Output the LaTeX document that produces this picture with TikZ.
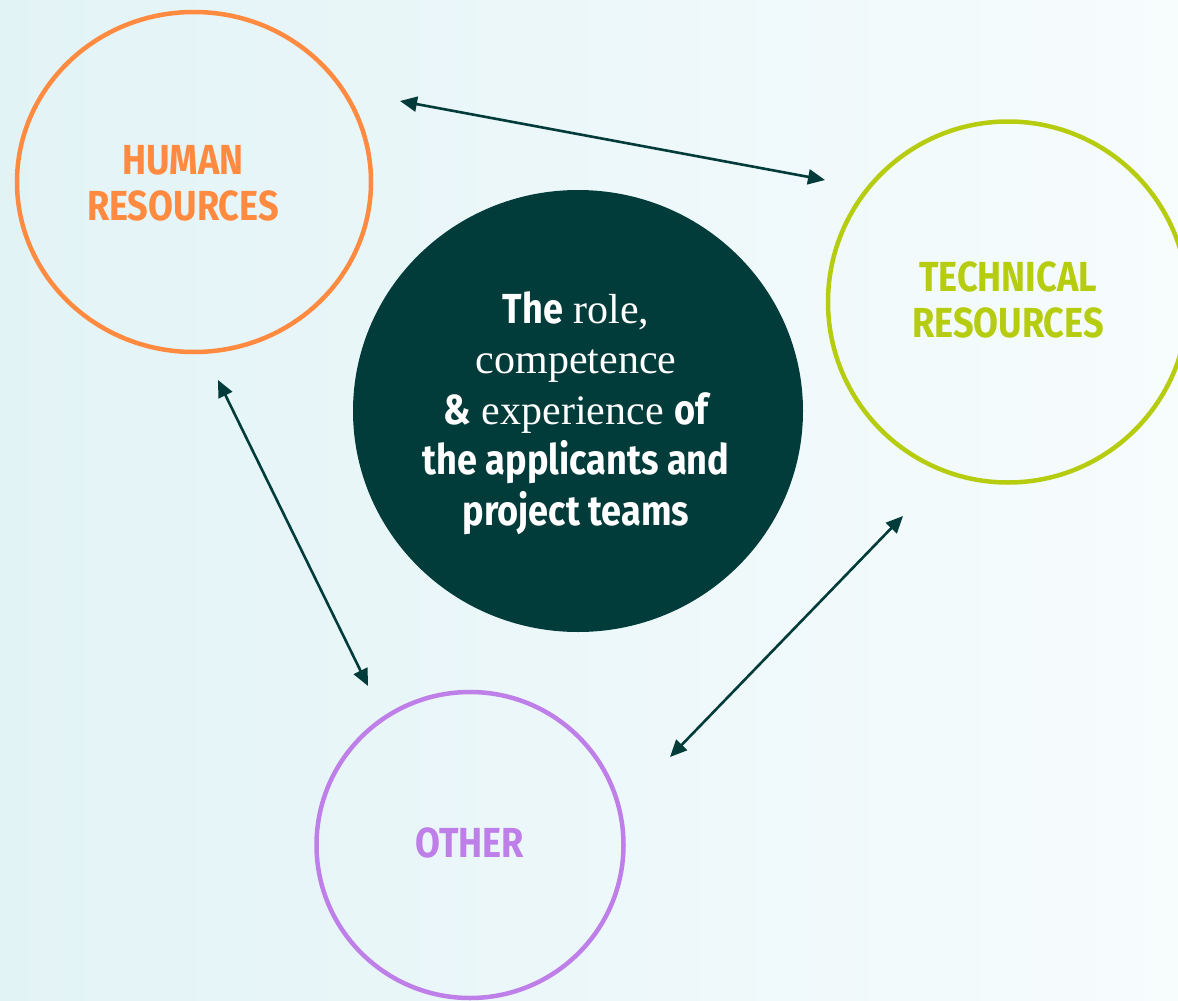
\documentclass[tikz,border=0pt]{standalone}
\usepackage{fontspec}
\setmainfont{Liberation Serif}
\newfontfamily\labfont[FakeStretch=0.86]{Fira Sans}
\usetikzlibrary{shapes.geometric,arrows.meta}
\definecolor{dk}{HTML}{023C3A}
\definecolor{orng}{HTML}{FF8A40}
\definecolor{lime}{HTML}{B6CC0E}
\definecolor{purp}{HTML}{BE80E8}
\definecolor{bgL}{HTML}{E2F3F6}
\definecolor{bgR}{HTML}{F7FCFD}
\tikzset{
  ring/.style={ellipse, draw, line width=4.5pt, inner sep=0pt, fill=none},
  lab/.style={font=\labfont\bfseries\fontsize{42}{46}\selectfont, align=center, inner sep=0pt},
  link/.style={draw=dk, line width=2.6pt, {Triangle[length=17pt,width=15pt]}-{Triangle[length=17pt,width=15pt]}}
}
\newcommand{\sfb}[1]{{\labfont\bfseries #1}}
\begin{document}
\begin{tikzpicture}[x=1pt,y=-1pt]
\shade[left color=bgL, right color=bgR] (0,0) rectangle (1178,1001);
\useasboundingbox (0,0) rectangle (1178,1001);
\clip (0,0) rectangle (1178,1001);

\node[ring, draw=orng, minimum width=354, minimum height=340] (hr) at (194,182) {};
\node[ring, draw=lime, minimum width=360, minimum height=361] (tr) at (1008,302) {};
\node[ring, draw=purp, minimum width=307, minimum height=306] (ot) at (470,845) {};
\node[ellipse, fill=dk, inner sep=0pt, minimum width=450, minimum height=442] (core) at (578,411) {};

\node[lab, text=orng] (hrt) at (183,183) {HUMAN\\RESOURCES};
\node[lab, text=lime] (trt) at (1008,300) {TECHNICAL\\RESOURCES};
\node[lab, text=purp] (ott) at (470,843) {OTHER};

\node[align=center, text=white, inner sep=0pt, font=\fontsize{42}{50.5}\selectfont] (coret) at (576,413)
  {\sfb{The} role,\\competence\\\sfb{\&} experience \sfb{of}\\\sfb{the applicants and}\\\sfb{project teams}};

\coordinate (a1) at (400,101);
\coordinate (b1) at (825,180);
\coordinate (a2) at (218,380);
\coordinate (b2) at (368,686);
\coordinate (a3) at (903,516);
\coordinate (b3) at (670,757);
\draw[link] (a1) -- (b1);
\draw[link] (a2) -- (b2);
\draw[link] (a3) -- (b3);
\end{tikzpicture}
\end{document}
